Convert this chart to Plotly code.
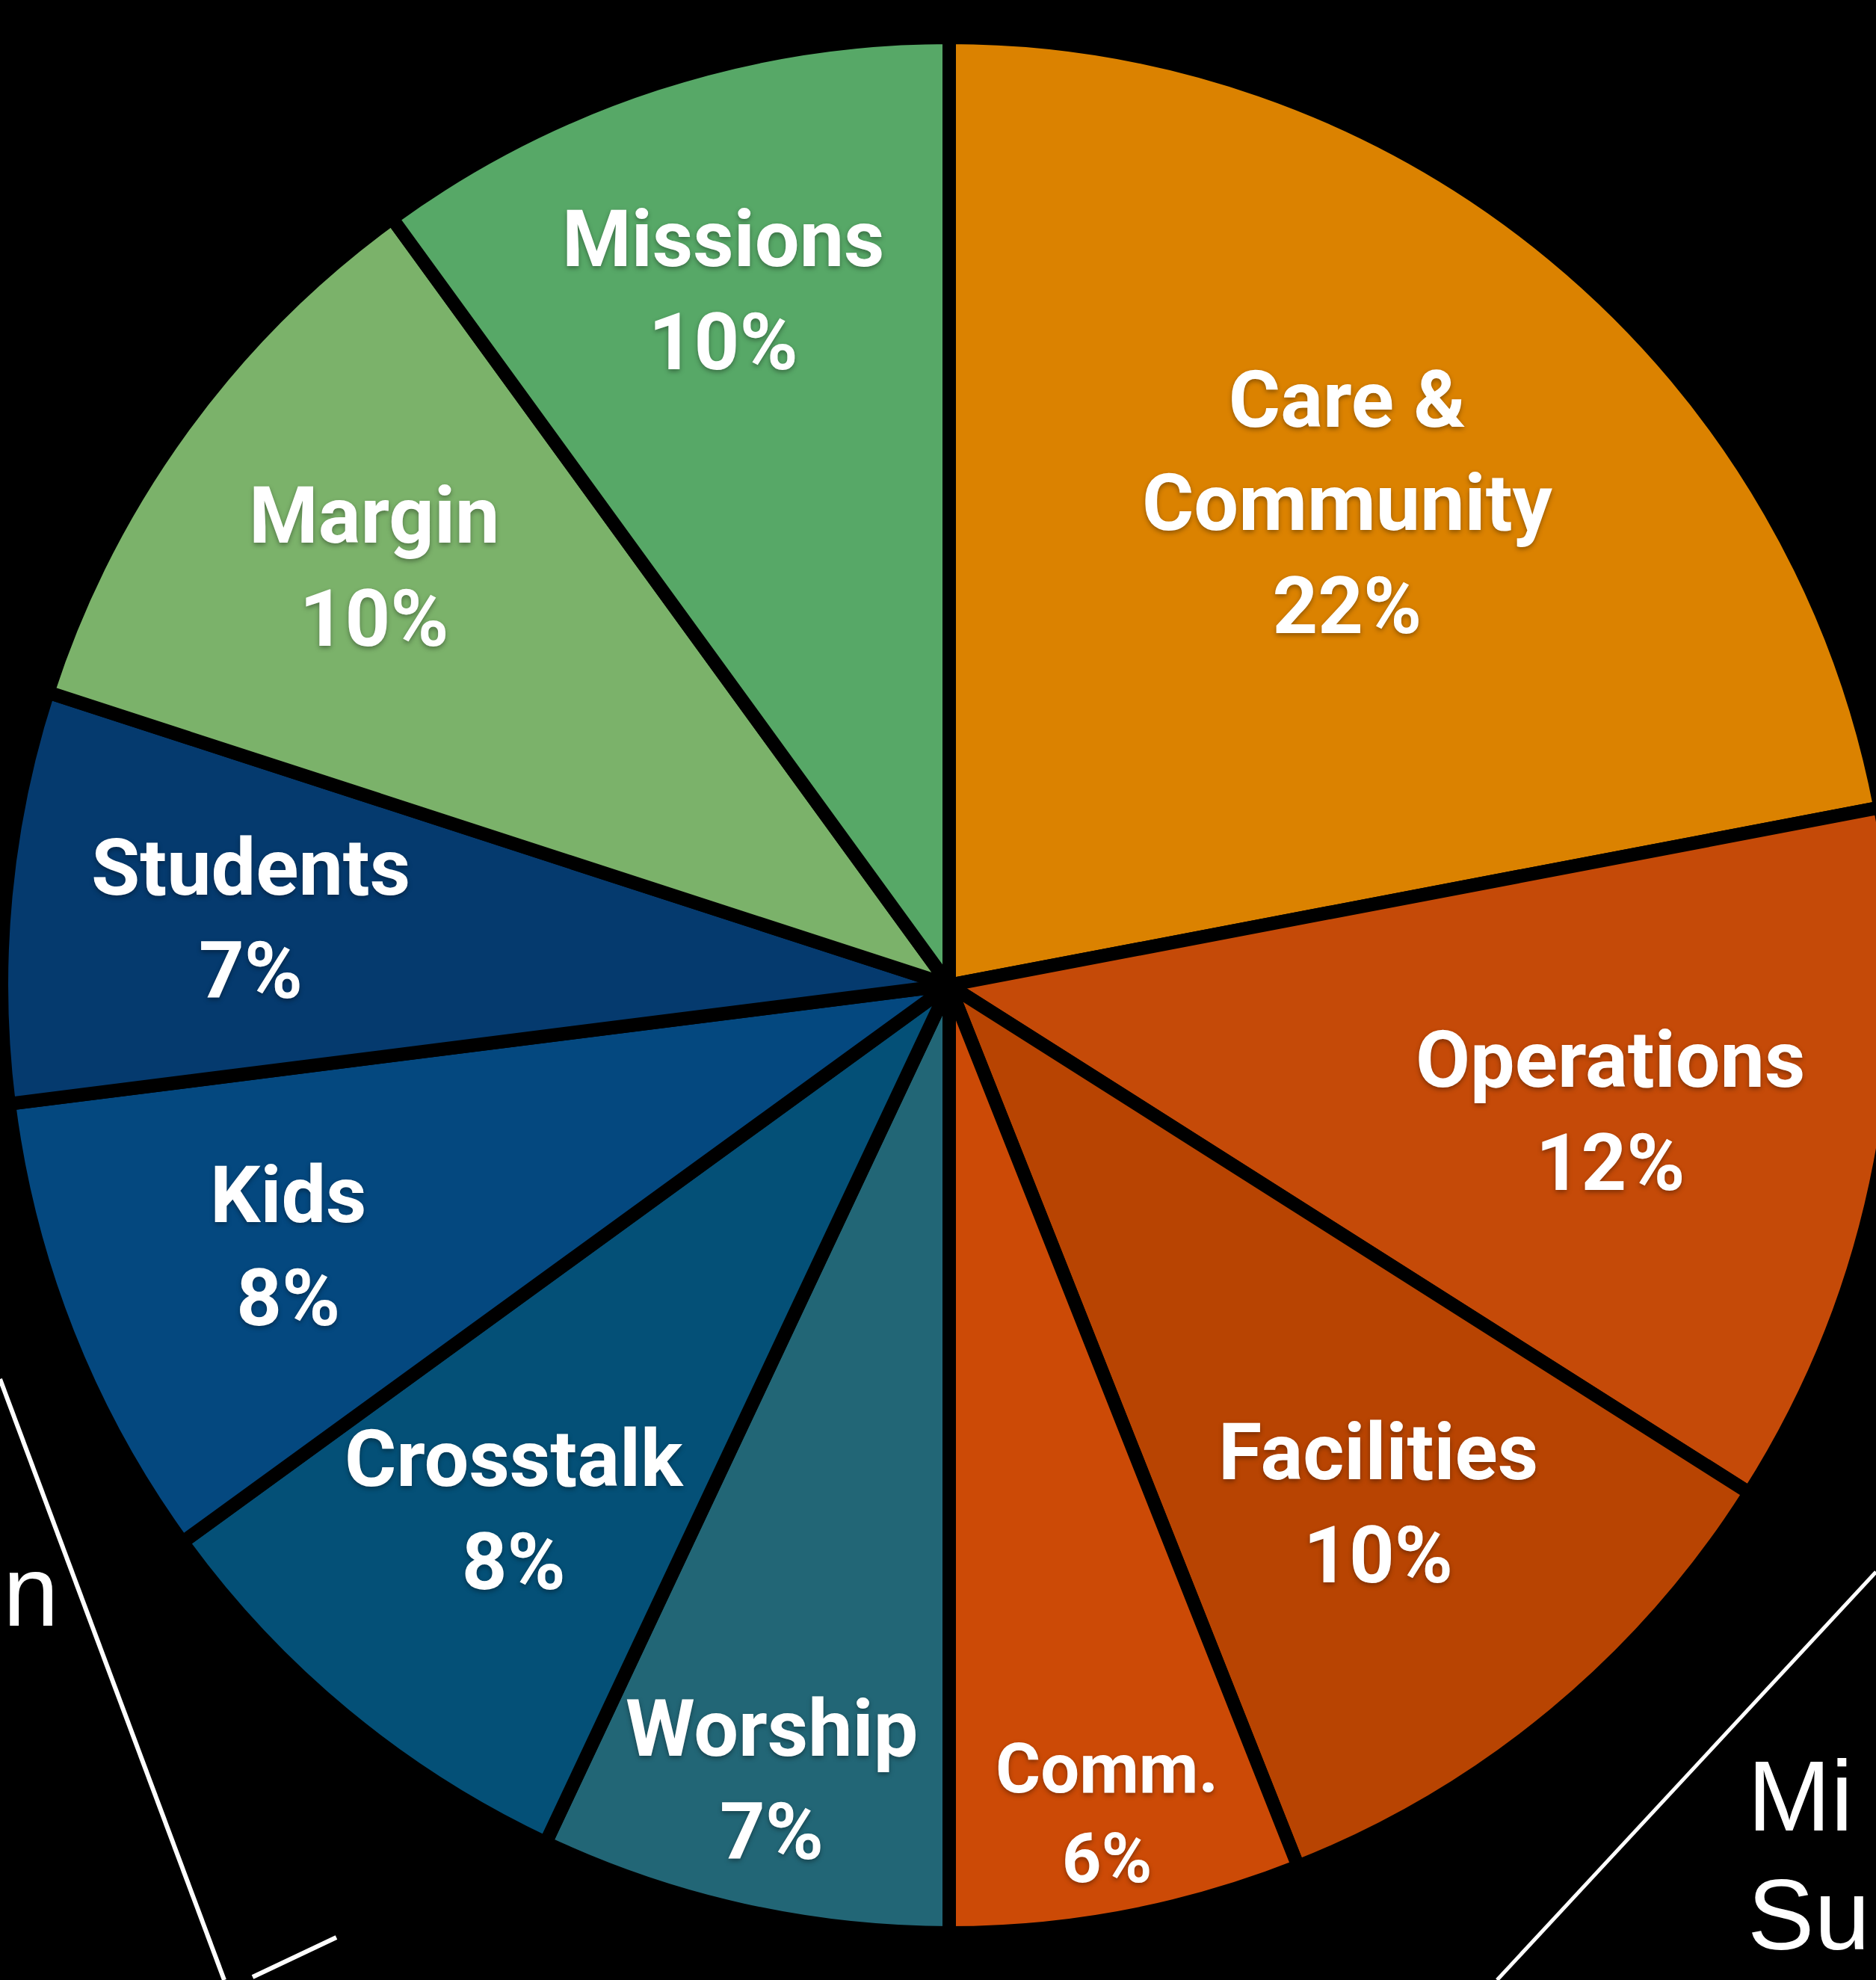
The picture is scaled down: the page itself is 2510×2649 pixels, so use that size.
import math
import plotly.graph_objects as go

# ---------------- data ----------------
categories = ["Care &<br>Community", "Operations", "Facilities", "Comm.", "Worship",
              "Crosstalk", "Kids", "Students", "Margin", "Missions"]
values = [22, 12, 10, 6, 7, 8, 8, 7, 10, 10]
colors = ["#DB8200", "#C54A08", "#B84402", "#CC4A06", "#226676",
          "#045077", "#04487F", "#053A6E", "#7BB26A", "#57A867"]

# ---------------- layout constants ----------------
VIEW_W = 2510                       # visible window width
W, H = 2540, 2649                   # figure slightly wider; the right sliver is outside the window
CX, CY, R = 1270, 1318, 1268        # pie centre / radius in px (screen coords)
label_r = [0.66, 0.71, 0.71, 0.89, 0.86, 0.72, 0.75, 0.74, 0.75, 0.77]
label_size = [106, 106, 106, 92, 106, 106, 106, 106, 106, 106]

dom_x = [(CX - R) / W, (CX + R) / W]
dom_y = [(H - (CY + R)) / H, (H - (CY - R)) / H]

fig = go.Figure(go.Pie(
    labels=categories,
    values=values,
    sort=False,
    direction="clockwise",
    rotation=0,
    marker=dict(colors=colors, line=dict(color="#000000", width=18)),
    textinfo="none",
    hoverinfo="label+percent",
    domain=dict(x=dom_x, y=dom_y),
    showlegend=False,
))

# slice labels, positioned from the data (mid-angle of each slice)
total = sum(values)
cum = 0
annotations = []
for i, (lab, v) in enumerate(zip(categories, values)):
    mid = (cum + v / 2) / total * 2 * math.pi
    cum += v
    px = CX + label_r[i] * R * math.sin(mid)
    py = CY - label_r[i] * R * math.cos(mid)
    pct = round(v / total * 100)
    annotations.append(dict(
        x=px / W, y=1 - py / H, xref="paper", yref="paper",
        xanchor="center", yanchor="middle", showarrow=False,
        text=f"{lab}<br>{pct}%",
        font=dict(family="Roboto, sans-serif", size=label_size[i],
                  color="#FFFFFF", weight="bold",
                  shadow="0px 3px 6px rgba(0,0,0,0.35)"),
    ))

# partial outer labels visible at the edges of the frame
outer_font = dict(family="Liberation Sans, Arial, sans-serif", size=134, color="#FFFFFF")
annotations += [
    dict(x=2 / W, y=1 - 2128 / H, xref="paper", yref="paper", xanchor="left",
         yanchor="middle", showarrow=False, text="n", font=outer_font),
    dict(x=2336 / W, y=1 - 2402 / H, xref="paper", yref="paper", xanchor="left",
         yanchor="middle", showarrow=False, text="Mi", font=outer_font),
    dict(x=2336 / W, y=1 - 2561 / H, xref="paper", yref="paper", xanchor="left",
         yanchor="middle", showarrow=False, text="Su", font=outer_font),
]

def pline(x0, y0, x1, y1, w):
    return dict(type="line", xref="paper", yref="paper",
                x0=x0 / W, y0=1 - y0 / H, x1=x1 / W, y1=1 - y1 / H,
                line=dict(color="#FFFFFF", width=w))

shapes = [
    pline(0, 1845, 300, 2649, 6),
    pline(338, 2645, 450, 2592, 6),
    pline(VIEW_W, 2103, 2003, 2649, 5),
]

fig.update_layout(
    width=W, height=H,
    margin=dict(l=0, r=0, t=0, b=0),
    paper_bgcolor="#000000",
    plot_bgcolor="#000000",
    annotations=annotations,
    shapes=shapes,
)

fig.write_html(
    "out.html",
    config={"displayModeBar": False},
    post_script="document.body.style.margin='0';document.body.style.background='#000';"
                "document.body.style.overflow='hidden';",
)
